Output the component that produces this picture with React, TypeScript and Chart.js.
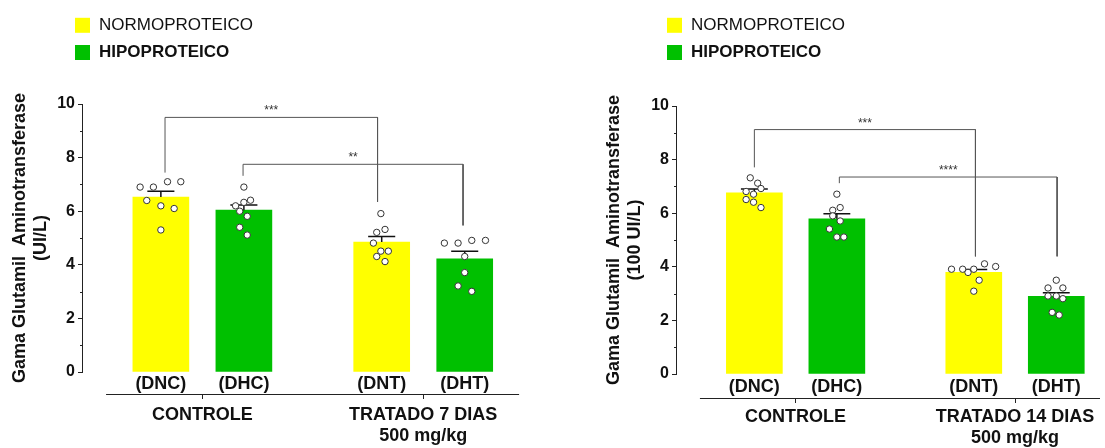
import React, { useEffect, useRef } from 'react';
import { Chart, registerables } from 'chart.js';

Chart.register(...registerables);

const FONT = '"Liberation Sans", Arial, Helvetica, sans-serif';
const TEXT = '#111111';
const AXIS = '#222222';
const YELLOW = '#FFFF00';
const GREEN = '#00C000';

// ---------------- data ----------------
const barLabels = ['(DNC)', '(DHC)', '(DNT)', '(DHT)'];
const seriesNames = ['NORMOPROTEICO', 'HIPOPROTEICO'];
const groupLabels7 = ['CONTROLE', ['TRATADO 7 DIAS', '500 mg/kg']];
const groupLabels14 = ['CONTROLE', ['TRATADO 14 DIAS', '500 mg/kg']];
const yTitle7 = ['Gama Glutamil  Aminotransferase', '(UI/L)'];
const yTitle14 = ['Gama Glutamil  Aminotransferase', '(100 UI/L)'];

// 7 days panel
const means7 = [6.53, 6.04, 4.85, 4.22];
const sem7 = [0.21, 0.19, 0.21, 0.29];
const dnc7 = [6.9, 6.9, 7.1, 7.1, 6.4, 6.2, 6.1, 5.3];
const dhc7 = [6.9, 6.2, 6.33, 6.41, 6.0, 5.81, 5.4, 5.11];
const dnt7 = [5.91, 5.21, 5.32, 4.81, 4.51, 4.51, 4.31, 4.12];
const dht7 = [4.81, 4.81, 4.91, 4.91, 4.31, 3.71, 3.21, 3.01];
const jitDnc7 = [-0.25, -0.09, 0.08, 0.24, -0.17, 0, 0.16, 0];
const jitDhc7 = [0, -0.1, 0, 0.08, -0.05, 0.04, -0.05, 0.04];
const jitDnt7 = [-0.01, -0.06, 0.04, -0.1, -0.01, 0.08, -0.06, 0.04];
const jitDht7 = [-0.245, -0.08, 0.085, 0.25, 0, 0, -0.08, 0.085];
const brFrom7 = [0.05, 0.99];
const brTo7 = [2.61, 3.64];
const brTop7 = [9.5, 7.75];
const brFromEnd7 = [7.44, 7.32];
const brToEnd7 = [6.35, 5.47];
const brText7 = ['***', '**'];

// 14 days panel
const means14 = [6.76, 5.79, 3.79, 2.9];
const sem14 = [0.14, 0.19, 0.11, 0.13];
const dnc14 = [7.32, 7.12, 6.92, 6.81, 6.71, 6.51, 6.41, 6.21];
const dhc14 = [6.71, 6.21, 6.11, 5.9, 5.71, 5.41, 5.11, 5.11];
const dnt14 = [3.91, 3.91, 3.91, 4.11, 4.01, 3.79, 3.5, 3.09];
const dht14 = [3.5, 3.21, 3.21, 2.91, 2.91, 2.81, 2.3, 2.2];
const jitDnc14 = [-0.05, 0.04, 0.08, -0.1, -0.01, -0.1, -0.01, 0.08];
const jitDhc14 = [0, 0.04, -0.05, -0.05, 0.04, -0.09, 0, 0.085];
const jitDnt14 = [-0.27, -0.135, 0, 0.13, 0.265, -0.07, 0.065, 0];
const jitDht14 = [0, -0.1, 0.08, -0.1, 0, 0.08, -0.05, 0.035];
const brFrom14 = [0.0, 1.03];
const brTo14 = [2.68, 3.67];
const brTop14 = [9.12, 7.35];
const brFromEnd14 = [7.71, 7.12];
const brToEnd14 = [4.39, 4.39];
const brText14 = ['***', '****'];

// ---------------- layout constants ----------------
const GROUP_GAP = 2.66;
const CAP = 0.163;
const X_MIN = -0.95;

const panel7 = {
  width: 594,
  means: means7,
  sems: sem7,
  points: [dnc7, dhc7, dnt7, dht7],
  jitter: [jitDnc7, jitDhc7, jitDnt7, jitDht7],
  brFrom: brFrom7, brTo: brTo7, brTop: brTop7, brFromEnd: brFromEnd7, brToEnd: brToEnd7, brText: brText7,
  groupLabels: groupLabels7,
  yTitle: yTitle7,
  padTop: 104, padRight: 72, xHeight: 22, x2Height: 54, xPad: 1, x2Pad: 5,
  xMax: 4.35, lineFrom: -0.66, lineTo: 4.315, legendX: 75, brLabelOffset: 7,
};

const panel14 = {
  width: 511,
  means: means14,
  sems: sem14,
  points: [dnc14, dhc14, dnt14, dht14],
  jitter: [jitDnc14, jitDhc14, jitDnt14, jitDht14],
  brFrom: brFrom14, brTo: brTo14, brTop: brTop14, brFromEnd: brFromEnd14, brToEnd: brToEnd14, brText: brText14,
  groupLabels: groupLabels14,
  yTitle: yTitle14,
  padTop: 106, padRight: 0, xHeight: 24, x2Height: 50, xPad: 2, x2Pad: 3,
  xMax: 4.19, lineFrom: -0.66, lineTo: 4.19, legendX: 73, brLabelOffset: 6,
};

const decorPlugin = {
  id: 'decor',
  afterDraw(chart: any, _args: any, opts: any) {
    const ctx = chart.ctx;
    const xs = chart.scales.x;
    const ys = chart.scales.y;
    const x2 = chart.scales.x2;
    const area = chart.chartArea;
    ctx.save();
    // minor y ticks (midway between major ticks)
    ctx.strokeStyle = AXIS;
    ctx.lineWidth = 1;
    const t = ys.ticks;
    for (let i = 0; i < t.length - 1; i++) {
      const v = (t[i].value + t[i + 1].value) / 2;
      const py = Math.round(ys.getPixelForValue(v)) + 0.5;
      ctx.beginPath();
      ctx.moveTo(area.left, py);
      ctx.lineTo(area.left - 2, py);
      ctx.stroke();
    }
    // detached x axis line
    const ly = Math.round(x2.top) + 0.5;
    ctx.beginPath();
    ctx.moveTo(xs.getPixelForValue(opts.lineFrom), ly);
    ctx.lineTo(xs.getPixelForValue(opts.lineTo), ly);
    ctx.stroke();
    // significance labels
    ctx.fillStyle = '#333333';
    ctx.font = `12px ${FONT}`;
    ctx.textAlign = 'center';
    ctx.textBaseline = 'middle';
    opts.brText.forEach((txt: string, k: number) => {
      const px = (xs.getPixelForValue(opts.brFrom[k]) + xs.getPixelForValue(opts.brTo[k])) / 2;
      const py = ys.getPixelForValue(opts.brTop[k]) - opts.brLabelOffset;
      ctx.fillText(txt, px, py);
    });
    // legend
    const rows = [25.3, 52.5];
    seriesNames.forEach((name, i) => {
      ctx.fillStyle = i === 0 ? YELLOW : GREEN;
      ctx.fillRect(opts.legendX, rows[i] - 7.5, 15, 15);
      ctx.fillStyle = TEXT;
      ctx.font = `${i === 1 ? 'bold ' : ''}17px ${FONT}`;
      ctx.textAlign = 'left';
      ctx.textBaseline = 'middle';
      ctx.fillText(name, opts.legendX + 24, rows[i]);
    });
    ctx.restore();
  },
};

function makeConfig(p: any): any {
  const pos = [0, 1, GROUP_GAP, GROUP_GAP + 1];
  const groupCenters = [0.5, GROUP_GAP + 0.5];
  const bars = p.means.map((m: number, i: number) => ({ x: pos[i], y: m }));
  const err: any[] = [];
  p.means.forEach((m: number, i: number) => {
    const top = m + p.sems[i];
    err.push({ x: pos[i] - CAP, y: top }, { x: pos[i] + CAP, y: top }, { x: pos[i] + CAP, y: null });
    err.push({ x: pos[i], y: m }, { x: pos[i], y: top }, { x: pos[i], y: null });
  });
  const br: any[] = [];
  p.brFrom.forEach((f: number, k: number) => {
    br.push({ x: f, y: p.brFromEnd[k] }, { x: f, y: p.brTop[k] }, { x: p.brTo[k], y: p.brTop[k] }, { x: p.brTo[k], y: p.brToEnd[k] }, { x: p.brTo[k], y: null });
  });
  const dots: any[] = [];
  p.points.forEach((vals: number[], i: number) =>
    vals.forEach((v: number, j: number) => dots.push({ x: pos[i] + p.jitter[i][j], y: v }))
  );
  const boldFont = (size: number) => ({ family: FONT, size, weight: 'bold' as const });

  return {
    type: 'bar',
    data: {
      datasets: [
        {
          type: 'scatter',
          data: dots,
          pointRadius: 3.2,
          pointBackgroundColor: '#ffffff',
          pointBorderColor: '#333333',
          pointBorderWidth: 1,
          showLine: false,
          order: 1,
        },
        {
          type: 'line',
          data: err,
          borderColor: '#111111',
          borderWidth: 1.5,
          pointRadius: 0,
          pointHitRadius: 0,
          fill: false,
          tension: 0,
          spanGaps: false,
          order: 2,
        },
        {
          type: 'line',
          data: br,
          borderColor: '#555555',
          borderWidth: 1,
          pointRadius: 0,
          pointHitRadius: 0,
          fill: false,
          tension: 0,
          spanGaps: false,
          order: 3,
        },
        {
          type: 'bar',
          data: bars,
          backgroundColor: [YELLOW, GREEN, YELLOW, GREEN],
          borderWidth: 0,
          barThickness: 56,
          order: 4,
        },
      ],
    },
    options: {
      responsive: false,
      animation: false,
      events: [],
      layout: { padding: { top: p.padTop, right: p.padRight, left: 0, bottom: 0 } },
      plugins: {
        legend: { display: false },
        tooltip: { enabled: false },
        decor: {
          lineFrom: p.lineFrom,
          lineTo: p.lineTo,
          brFrom: p.brFrom,
          brTo: p.brTo,
          brTop: p.brTop,
          brText: p.brText,
          brLabelOffset: p.brLabelOffset,
          legendX: p.legendX,
        },
      },
      scales: {
        x: {
          type: 'linear',
          position: 'bottom',
          weight: 0,
          min: X_MIN,
          max: p.xMax,
          offset: false,
          afterBuildTicks: (s: any) => {
            s.ticks = pos.map((v) => ({ value: v }));
          },
          afterFit: (s: any) => {
            s.height = p.xHeight;
          },
          ticks: {
            autoSkip: false,
            maxRotation: 0,
            minRotation: 0,
            padding: p.xPad,
            color: TEXT,
            font: boldFont(18),
            callback: (_v: any, i: number) => barLabels[i],
          },
          grid: { display: false, drawTicks: false, offset: false },
          border: { display: false },
        },
        x2: {
          type: 'linear',
          position: 'bottom',
          weight: 1,
          min: X_MIN,
          max: p.xMax,
          offset: false,
          afterBuildTicks: (s: any) => {
            s.ticks = groupCenters.map((v) => ({ value: v }));
          },
          afterFit: (s: any) => {
            s.height = p.x2Height;
          },
          ticks: {
            autoSkip: false,
            maxRotation: 0,
            minRotation: 0,
            padding: p.x2Pad,
            color: TEXT,
            font: boldFont(18),
            callback: (_v: any, i: number) => p.groupLabels[i],
          },
          grid: {
            display: true,
            drawOnChartArea: false,
            drawTicks: true,
            tickLength: 5,
            color: AXIS,
            lineWidth: 1,
            offset: false,
          },
          border: { display: false },
        },
        y: {
          type: 'linear',
          position: 'left',
          min: 0,
          max: 10,
          afterFit: (s: any) => {
            s.width = 82;
          },
          ticks: { stepSize: 2, padding: 3, color: TEXT, font: boldFont(16) },
          grid: { drawOnChartArea: false, drawTicks: true, tickLength: 4, color: AXIS, lineWidth: 1 },
          border: { display: true, color: AXIS, width: 1 },
          title: {
            display: true,
            text: p.yTitle,
            color: TEXT,
            font: boldFont(18),
            padding: { top: 9, bottom: 0 },
          },
        },
      },
    },
    plugins: [decorPlugin],
  };
}

function Panel({ panel, left }: { panel: any; left: number }) {
  const ref = useRef<HTMLCanvasElement | null>(null);
  useEffect(() => {
    if (!ref.current) return;
    const chart = new Chart(ref.current, makeConfig(panel));
    return () => chart.destroy();
  }, [panel]);
  return (
    <div style={{ position: 'absolute', left, top: 0, width: panel.width, height: 448 }}>
      <canvas ref={ref} width={panel.width} height={448} style={{ display: 'block' }} />
    </div>
  );
}

export default function App() {
  return (
    <div style={{ position: 'absolute', left: 0, top: 0, width: 1105, height: 448, background: '#ffffff', overflow: 'hidden' }}>
      <Panel panel={panel7} left={0} />
      <Panel panel={panel14} left={594} />
    </div>
  );
}
